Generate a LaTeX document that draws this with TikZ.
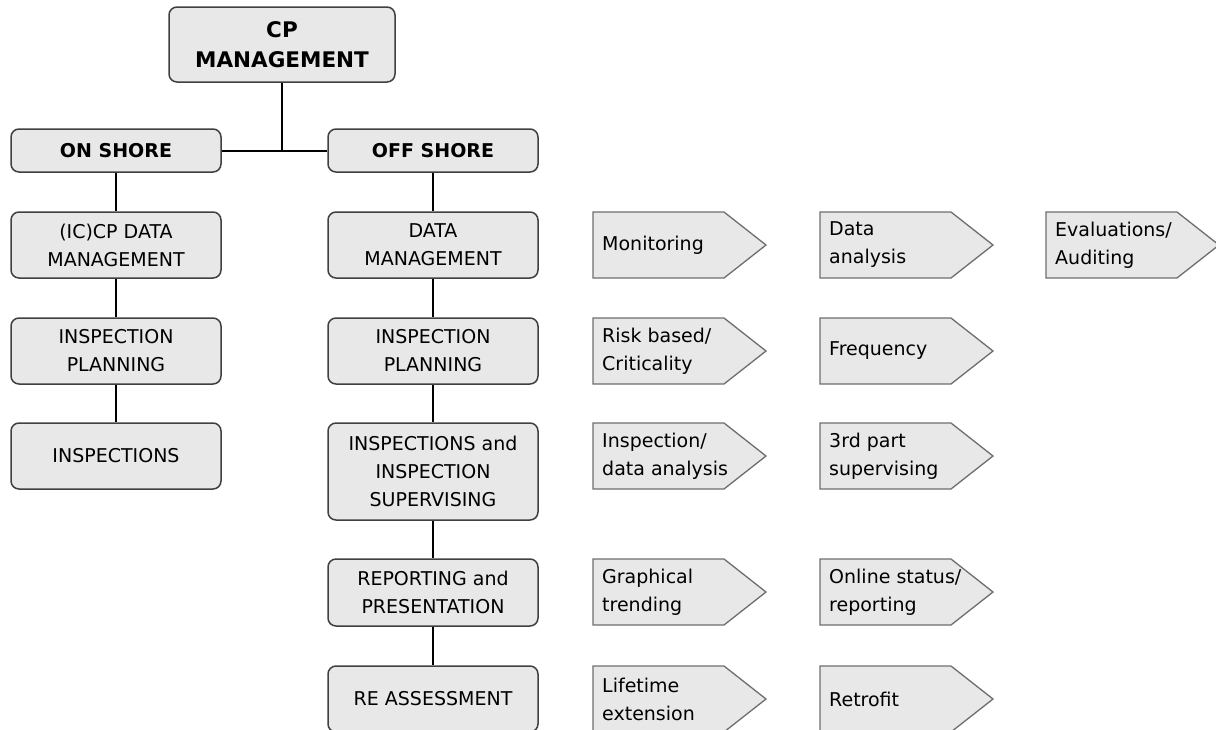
\documentclass[tikz,border=0pt]{standalone}
\usepackage{fontspec}
\setmainfont{DejaVu Sans}
\definecolor{boxfill}{HTML}{E8E8E8}
\definecolor{boxedge}{HTML}{404040}
\definecolor{tagedge}{HTML}{6E6E6E}
% arrow-like tag: name, left x, top y, text
\newcommand\steptag[4]{%
  \draw[tagshape] (#2,#3) -- ++(131,0) -- ++(42,33) -- ++(-42,33) -- ++(-131,0) -- cycle;
  \node[tagtext] (#1) at (#2+9,#3+33) {#4};}
\begin{document}
\begin{tikzpicture}[x=1pt,y=-1pt,
    box/.style={draw=boxedge,line width=1.5pt,fill=boxfill,rounded corners=8pt,
      minimum width=210pt,minimum height=66pt,align=center,inner sep=2pt,
      font=\fontsize{19}{28}\selectfont},
    headbox/.style={box,font=\fontsize{19}{28}\selectfont\bfseries,minimum height=43pt},
    link/.style={line width=2pt},
    tagshape/.style={draw=tagedge,line width=1.3pt,fill=boxfill},
    tagtext/.style={anchor=west,align=left,inner sep=0pt,font=\fontsize{19}{28}\selectfont}]
    \useasboundingbox (0,0) rectangle (1216,729);
    \node[box,font=\fontsize{21.5}{30}\selectfont\bfseries,minimum width=226pt,minimum height=75pt] (cp) at (282,44.5) {CP\\MANAGEMENT};
    \node[headbox] (on) at (116,150.5) {ON SHORE};
    \node[headbox] (off) at (433,150.5) {OFF SHORE};
    % on shore column
    \node[box] (icdata) at (116,245) {(IC)CP DATA\\MANAGEMENT};
    \node[box] (onplan) at (116,351) {INSPECTION\\PLANNING};
    \node[box] (oninsp) at (116,456) {INSPECTIONS};
    % off shore column
    \node[box] (data) at (433,245) {DATA\\MANAGEMENT};
    \node[box] (offplan) at (433,351) {INSPECTION\\PLANNING};
    \node[box,minimum height=97pt] (offinsp) at (433,471.5) {INSPECTIONS and\\INSPECTION\\SUPERVISING};
    \node[box,minimum height=67pt] (report) at (433,592.5) {REPORTING and\\PRESENTATION};
    \node[box] (reass) at (433,699) {RE ASSESSMENT};
    \coordinate (split) at (cp.south |- on.east);
    \draw[link] (cp.south) -- (split);
    \draw[link] (on.east) -- (off.west);
    \draw[link] (on) -- (icdata);
    \draw[link] (icdata) -- (onplan);
    \draw[link] (onplan) -- (oninsp);
    \draw[link] (off) -- (data);
    \draw[link] (data) -- (offplan);
    \draw[link] (offplan) -- (offinsp);
    \draw[link] (offinsp) -- (report);
    \draw[link] (report) -- (reass);
    % tags
    \steptag{monitor}{593}{212}{Monitoring}
    \steptag{analysis}{820}{212}{Data\\analysis}
    \steptag{audit}{1046}{212}{Evaluations/\\Auditing}
    \steptag{risk}{593}{318}{Risk based/\\Criticality}
    \steptag{freq}{820}{318}{Frequency}
    \steptag{inspdata}{593}{423}{Inspection/\\data analysis}
    \steptag{third}{820}{423}{3rd part\\supervising}
    \steptag{trend}{593}{559}{Graphical\\trending}
    \steptag{online}{820}{559}{Online status/\\reporting}
    \steptag{life}{593}{666}{Lifetime\\extension}
    \steptag{retro}{820}{666}{Retrofit}
\end{tikzpicture}
\end{document}
